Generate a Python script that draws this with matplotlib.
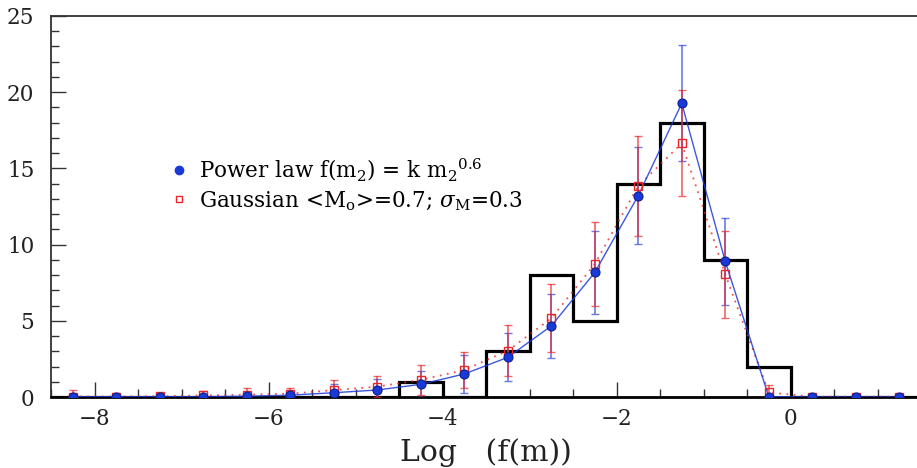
import numpy as np
import matplotlib
matplotlib.use("Agg")
import matplotlib.pyplot as plt
from matplotlib.lines import Line2D
from matplotlib.ticker import MultipleLocator

plt.rcParams['font.family'] = ['DejaVu Serif']
plt.rcParams['mathtext.fontset'] = 'dejavuserif'

# bin centres of log f(m)
logf = [-8.25, -7.75, -7.25, -6.75, -6.25, -5.75, -5.25, -4.75, -4.25, -3.75,
        -3.25, -2.75, -2.25, -1.75, -1.25, -0.75, -0.25, 0.25, 0.75, 1.25]

# power law model
pl_val = [0.02, 0.02, 0.02, 0.02, 0.05, 0.12, 0.28, 0.46, 0.83, 1.51,
          2.60, 4.66, 8.17, 13.21, 19.27, 8.90, 0.02, 0.0, 0.0, 0.0]
pl_err = [0.05, 0.05, 0.05, 0.05, 0.10, 0.20, 0.55, 0.70, 0.90, 1.25,
          1.58, 2.10, 2.70, 3.20, 3.80, 2.85, 0.05, 0.0, 0.0, 0.0]

# gaussian model
ga_val = [0.03, 0.03, 0.05, 0.10, 0.15, 0.22, 0.45, 0.68, 1.12, 1.77,
          3.04, 5.16, 8.72, 13.85, 16.64, 8.05, 0.30, 0.02, 0.02, 0.02]
ga_err = [0.40, 0.22, 0.23, 0.30, 0.42, 0.40, 0.64, 0.70, 1.00, 1.20,
          1.68, 2.23, 2.75, 3.30, 3.48, 2.85, 0.50, 0.02, 0.0, 0.0]

# observed histogram
edges = [-8.5, -8.0, -7.5, -7.0, -6.5, -6.0, -5.5, -5.0, -4.5, -4.0, -3.5,
         -3.0, -2.5, -2.0, -1.5, -1.0, -0.5, 0.0, 0.5, 1.0, 1.5]
counts = [0, 0, 0, 0, 0, 0, 0, 0, 1, 0, 3, 8, 5, 14, 18, 9, 2, 0, 0, 0]

fig = plt.figure(figsize=(9.17, 4.68), dpi=100)
W, H = 917, 468
ax = fig.add_axes([51 / W, 71 / H, 870 / W, 381 / H])

ax.stairs(counts, edges, baseline=0, color='black', lw=2.3, zorder=3)

blue = '#1a3ad8'
red = '#e8262a'
ax.plot(logf, ga_val, ls=(0, (1, 3)), color=red, lw=1.3, alpha=0.8, zorder=4)
ax.plot(logf, pl_val, '-', color=blue, lw=1.0, alpha=0.85, zorder=4)
ax.errorbar(logf, pl_val, yerr=pl_err, fmt='none', ecolor='#3a4ee0', elinewidth=1.2,
            capsize=3, capthick=1.0, alpha=0.75, zorder=5)
ax.errorbar(logf, ga_val, yerr=ga_err, fmt='none', ecolor=red, elinewidth=1.2,
            capsize=3, capthick=1.0, alpha=0.7, zorder=6)
ax.plot(logf, ga_val, 's', ms=5.5, mfc='none', mec=red, mew=1.0, zorder=7)
ax.plot(logf, pl_val, 'o', ms=6.5, mfc=blue, mec='#0c1f90', mew=0.8, zorder=7)

ax.set_xlim(-8.5, 1.5)
ax.set_ylim(0, 25)
ax.xaxis.set_major_locator(MultipleLocator(2))
ax.xaxis.set_minor_locator(MultipleLocator(0.5))
ax.yaxis.set_major_locator(MultipleLocator(5))
ax.yaxis.set_minor_locator(MultipleLocator(1))
ax.tick_params(which='both', direction='in', top=False, right=False, colors='#333333')
ax.tick_params(which='major', length=11, width=1.0, labelsize=15.5, labelcolor='#222222')
ax.tick_params(which='minor', length=6, width=1.0)
ax.tick_params(axis='y', pad=12)
ax.tick_params(axis='x', pad=8)
for s in ['left', 'top', 'right']:
    ax.spines[s].set_color('#333333')
    ax.spines[s].set_linewidth(1.3)
ax.spines['bottom'].set_linewidth(2.0)

ax.set_xlabel('Log   (f(m))', fontsize=21.5, labelpad=6, color='#222222')

handles = [
    Line2D([], [], ls='none', marker='o', ms=6, mfc=blue, mec=blue),
    Line2D([], [], ls='none', marker='s', ms=4.5, mfc='none', mec=red, mew=1.0),
]
labels = [r'Power law f(m$_2$) = k m$_2$$^{0.6}$',
          r'Gaussian <M$_{\rm o}$>=0.7; $\sigma_{\rm M}$=0.3']
ax.legend(handles, labels, loc='upper left', bbox_to_anchor=(0.13, 0.655),
          frameon=False, fontsize=15.5, handlelength=0.6, handletextpad=0.6,
          labelspacing=0.3, borderaxespad=0)

fig.savefig('out.png', dpi=100)
